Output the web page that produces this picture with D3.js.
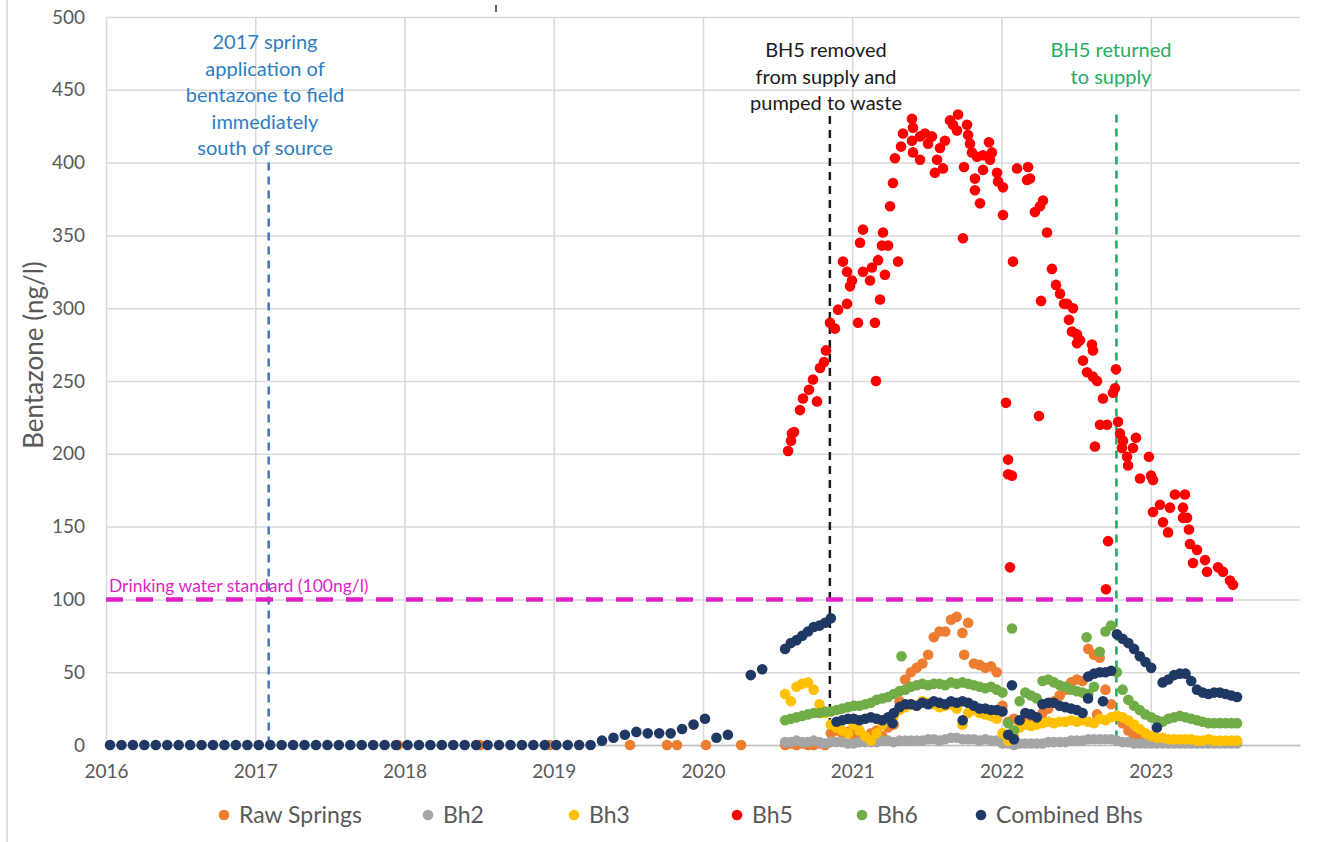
<!DOCTYPE html>
<html>
<head>
<meta charset="utf-8">
<script src="https://cdn.jsdelivr.net/npm/d3@7"></script>
<style>
  body { margin: 0; background: #fff; }
  svg { display: block; }
  text { font-family: Lato, "Open Sans", sans-serif; }
</style>
</head>
<body>
<svg id="chart" width="1330" height="842"></svg>
<script>
// ---- data -------------------------------------------------------------
const xTickYears = [2016, 2017, 2018, 2019, 2020, 2021, 2022, 2023];
const yTicks = [0, 50, 100, 150, 200, 250, 300, 350, 400, 450, 500];
const seriesNames = ["Raw Springs", "Bh2", "Bh3", "Bh5", "Bh6", "Combined Bhs"];

// Combined borehole supply, four-weekly samples from Jan 2016
const fourWeekStart = 2016.027;
const fourWeekStep = 28 / 365.25;
const combinedEarly = [
  0,0,0,0,0,0,0,0,0,0, 0,0,0,0,0,0,0,0,0,0,
  0,0,0,0,0,0,0,0,0,0, 0,0,0,0,0,0,0,0,0,0,
  0,0,0,
  3,5,7,9,8,8,8,11,14,18,5,7,null,48,52
];

// Occasional raw spring samples before routine monitoring
const rawSpringsEarly = [
  [2017.956, 0], [2018.506, 0], [2018.975, 0], [2019.511, 0],
  [2019.759, 0], [2019.826, 0], [2020.020, 0], [2020.255, 0]
];

// Fortnightly monitoring from late July 2020
const fortnightStart = 2020.55;
const fortnightStep = 14 / 365.25;

const rawSprings = [
  0,1,0,1,0,0,1,0,
  8,10,8,9,7,9,5,8,10,6,12,14,
  30,45,50,53,56,62,74,78,78,86,88,77,84,56,55,53,54,50,
  27,16,18,15,16,20,18,22,25,30,34,38,43,45,44,66,62,60,38,28,20,15,10,6,4,
  3,2,2,2,2,2,2,2,2,2,2,2,2,2,2,2,2
];
const bh2 = [
  2,2,3,2,2,3,2,1,2,2,2,1,
  1,2,2,2,2,3,3,2,3,3,3,3,
  3,4,4,3,4,5,5,4,4,4,3,4,3,3,
  1,1,0,1,1,1,1,
  1,2,2,2,2,3,3,3,4,4,4,4,
  4,3,2,2,1,1,
  1,1,1,1,1,1,1,1,1,1,1,1,1,1,1,1,1
];
const bh3 = [
  35,30,40,42,43,38,28,22,14,12,10,8,
  14,10,6,3,8,14,18,20,24,26,28,27,
  30,29,28,26,27,28,25,14,22,24,22,21,20,18,
  8,3,6,12,14,13,14,
  15,16,15,16,16,17,16,17,16,15,18,17,
  19,20,19,17,14,11,
  8,6,5,5,4,4,4,4,4,3,3,4,3,3,3,3,3
];
const bh6 = [
  17,18,19,20,21,22,22,23,23,24,25,26,
  27,27,28,29,31,32,33,35,37,38,40,41,
  42,41,42,42,41,43,42,43,42,41,40,39,40,38,
  36,15,10,30,36,34,32,
  44,45,43,41,40,38,37,36,35,40,64,78,
  82,50,38,31,27,24,
  21,19,17,16,18,19,20,19,18,17,16,15,15,15,15,15,15
];
const combined = [
  66,70,72,75,78,81,82,84,87,
  16,17,18,18,17,18,19,18,17,19,
  22,26,28,28,27,29,28,30,29,28,30,29,30,29,27,25,25,24,24,
  23,7,4,17,22,21,19,
  28,29,29,27,26,25,24,22,47,49,50,50,
  51,76,73,70,66,61,57,53,
  12,43,45,48,49,49,44,38,36,35,36,36,35,34,33
];

// Individual readings off the fortnightly calendar
const rawSpringsExtra = [[2021.75, 62], [2022.64, 21]];
const bh6Extra = [[2021.33, 61], [2022.07, 80], [2022.57, 74]];
const combinedExtra = [[2021.27, 15], [2021.74, 17], [2022.07, 41], [2022.58, 32], [2022.68, 30]];

// Bh5 readings [decimal year, ng/l]
const bh5 = [
  [2020.570,202],[2020.590,209],[2020.596,214],[2020.610,215],[2020.650,230],[2020.670,238],
  [2020.710,244],[2020.737,251],[2020.764,236],[2020.784,259],[2020.811,263],[2020.824,271],
  [2020.851,290],[2020.884,286],[2020.905,299],[2020.938,332],[2020.965,303],[2020.965,325],
  [2020.985,315],[2020.998,319],[2021.039,290],[2021.052,345],[2021.072,354],[2021.072,325],
  [2021.119,319],[2021.132,328],[2021.152,290],[2021.159,250],[2021.173,333],[2021.186,306],
  [2021.199,343],[2021.206,352],[2021.219,323],[2021.240,343],[2021.253,370],[2021.273,386],
  [2021.286,403],[2021.307,332],[2021.327,411],[2021.340,420],[2021.400,430],[2021.400,415],
  [2021.407,424],[2021.407,407],[2021.454,418],[2021.454,402],[2021.487,420],[2021.508,413],
  [2021.534,418],[2021.554,393],[2021.568,402],[2021.588,410],[2021.608,396],[2021.621,415],
  [2021.655,429],[2021.675,426],[2021.702,422],[2021.709,433],[2021.742,348],[2021.749,397],
  [2021.769,426],[2021.776,419],[2021.789,413],[2021.802,407],[2021.822,389],[2021.822,381],
  [2021.836,404],[2021.856,372],[2021.876,395],[2021.876,405],[2021.916,414],[2021.923,402],
  [2021.936,407],[2021.970,393],[2021.977,387],[2022.010,383],[2022.010,364],[2022.030,235],
  [2022.044,196],[2022.044,186],[2022.057,122],[2022.070,185],[2022.077,332],[2022.104,396],
  [2022.171,388],[2022.178,397],[2022.191,389],[2022.224,366],[2022.251,226],[2022.258,370],
  [2022.265,305],[2022.278,374],[2022.305,352],[2022.338,327],[2022.365,316],[2022.392,310],
  [2022.419,303],[2022.439,303],[2022.452,292],[2022.472,284],[2022.479,300],[2022.506,282],
  [2022.506,276],[2022.526,278],[2022.546,264],[2022.573,256],[2022.606,275],[2022.613,271],
  [2022.613,253],[2022.626,205],[2022.640,250],[2022.660,220],[2022.680,238],[2022.700,107],
  [2022.707,220],[2022.714,140],[2022.747,242],[2022.760,245],[2022.767,258],[2022.781,222],
  [2022.794,214],[2022.807,204],[2022.814,209],[2022.841,198],[2022.848,192],[2022.881,204],
  [2022.901,211],[2022.928,183],[2022.988,198],[2023.002,185],[2023.015,182],[2023.015,160],
  [2023.062,165],[2023.082,153],[2023.116,146],[2023.129,163],[2023.162,172],[2023.216,163],
  [2023.216,156],[2023.229,172],[2023.243,156],[2023.256,148],[2023.263,138],[2023.283,125],
  [2023.310,134],[2023.364,127],[2023.377,119],[2023.451,122],[2023.484,119],[2023.531,113],
  [2023.551,110]
];

// Reference events and limit
const standardValue = 100;
const standardLabel = "Drinking water standard (100ng/l)";
const events = [
  { year: 2017.09, top: 400, line: "#4472c4", textColor: "#2e7dc0",
    lines: ["2017 spring", "application of", "bentazone to field", "immediately", "south of source"] },
  { year: 2020.85, top: 432, line: "#1a1a1a", textColor: "#1a1a1a",
    lines: ["BH5 removed", "from supply and", "pumped to waste"] },
  { year: 2022.77, top: 433, line: "#1fa65a", textColor: "#25ad5f",
    lines: ["BH5 returned", "to supply"] }
];

// ---- helpers ----------------------------------------------------------
const onCalendar = (vals, start, step) =>
  vals.map((v, i) => [start + i * step, v]).filter(d => d[1] !== null);

const colors = {
  "Raw Springs": "#ed7d31",
  "Bh2": "#a5a5a5",
  "Bh3": "#ffc000",
  "Bh5": "#ff0000",
  "Bh6": "#70ad47",
  "Combined Bhs": "#203864"
};

const seriesPoints = {
  "Raw Springs": rawSpringsEarly.concat(onCalendar(rawSprings, fortnightStart, fortnightStep), rawSpringsExtra),
  "Bh2": onCalendar(bh2, fortnightStart, fortnightStep),
  "Bh3": onCalendar(bh3, fortnightStart, fortnightStep),
  "Bh5": bh5,
  "Bh6": onCalendar(bh6, fortnightStart, fortnightStep).concat(bh6Extra),
  "Combined Bhs": onCalendar(combinedEarly, fourWeekStart, fourWeekStep)
    .concat(onCalendar(combined, fortnightStart, fortnightStep), combinedExtra)
};

// ---- layout -----------------------------------------------------------
const svg = d3.select("#chart");
const plot = { left: 106, right: 1300, top: 17, bottom: 745 };

const x = d3.scaleLinear().domain([2016, 2024]).range([plot.left, plot.right]);
const y = d3.scaleLinear().domain([0, 500]).range([plot.bottom, plot.top]);

// page frame line on the left and a stray tick at the top
svg.append("line").attr("x1", 7).attr("x2", 7).attr("y1", 0).attr("y2", 842)
  .attr("stroke", "#d4d4d4").attr("stroke-width", 1.5);
svg.append("line").attr("x1", 496).attr("x2", 496).attr("y1", 5).attr("y2", 12)
  .attr("stroke", "#333").attr("stroke-width", 1.5);

// gridlines
const grid = svg.append("g");
grid.append("g")
  .attr("transform", `translate(${plot.left},0)`)
  .call(d3.axisLeft(y).tickValues(yTicks).tickSize(-(plot.right - plot.left)).tickFormat(""))
  .call(g => g.select(".domain").remove())
  .call(g => g.selectAll("line").attr("stroke", "#d9d9d9").attr("stroke-width", 1.5));
grid.append("g")
  .attr("transform", `translate(0,${plot.bottom})`)
  .call(d3.axisBottom(x).tickValues(xTickYears).tickSize(-(plot.bottom - plot.top)).tickFormat(""))
  .call(g => g.select(".domain").remove())
  .call(g => g.selectAll("line").attr("stroke", "#d9d9d9").attr("stroke-width", 1.5));

// axis labels
const tickFill = "#595959";
svg.append("g")
  .attr("transform", `translate(${plot.left},0)`)
  .call(d3.axisLeft(y).tickValues(yTicks).tickSize(0).tickPadding(21))
  .call(g => g.select(".domain").remove())
  .call(g => g.selectAll("text").attr("fill", tickFill).style("font-size", "19px")
    .style("font-family", "Lato, sans-serif"));
svg.append("g")
  .attr("transform", `translate(0,${plot.bottom})`)
  .call(d3.axisBottom(x).tickValues(xTickYears).tickSize(0).tickPadding(20).tickFormat(d3.format("d")))
  .call(g => g.select(".domain").attr("stroke", "#bfbfbf").attr("stroke-width", 1.5))
  .call(g => g.selectAll("text").attr("fill", tickFill).style("font-size", "19px")
    .style("font-family", "Lato, sans-serif"));

svg.append("text")
  .attr("transform", "translate(43,355) rotate(-90)")
  .attr("text-anchor", "middle")
  .attr("fill", tickFill)
  .style("font-size", "26px")
  .text("Bentazone (ng/l)");

// event markers
events.forEach(ev => {
  svg.append("line")
    .attr("x1", x(ev.year)).attr("x2", x(ev.year))
    .attr("y1", y(ev.top)).attr("y2", y(0))
    .attr("stroke", ev.line).attr("stroke-width", 2.5)
    .attr("stroke-dasharray", "8,6");
});

// series points, drawn in legend order
seriesNames.forEach(name => {
  svg.append("g").selectAll("circle")
    .data(seriesPoints[name])
    .join("circle")
    .attr("cx", d => x(d[0]))
    .attr("cy", d => y(d[1]))
    .attr("r", 5.3)
    .attr("fill", colors[name]);
});

// drinking water standard
svg.append("line")
  .attr("x1", x(2016)).attr("x2", x(2023.57))
  .attr("y1", y(standardValue)).attr("y2", y(standardValue))
  .attr("stroke", "#e11fc6").attr("stroke-width", 4.5)
  .attr("stroke-dasharray", "17,13");
svg.append("text")
  .attr("x", x(2016) + 3).attr("y", y(standardValue) - 7)
  .attr("fill", "#e11fc6")
  .style("font-size", "17.5px")
  .text(standardLabel);

// event annotations
const noteCenters = [265, 826, 1111];
const noteTop = [49, 57, 57];
events.forEach((ev, i) => {
  svg.append("g").selectAll("text")
    .data(ev.lines)
    .join("text")
    .attr("x", noteCenters[i])
    .attr("y", (d, j) => noteTop[i] + j * 26.6)
    .attr("text-anchor", "middle")
    .attr("fill", ev.textColor)
    .style("font-size", "20px")
    .text(d => d);
});

// legend
const legendX = [224, 428, 574, 737, 862, 981];
const legend = svg.append("g");
seriesNames.forEach((name, i) => {
  legend.append("circle").attr("cx", legendX[i]).attr("cy", 815).attr("r", 5.3).attr("fill", colors[name]);
  legend.append("text").attr("x", legendX[i] + 15).attr("y", 823)
    .attr("fill", tickFill).style("font-size", "23px").text(name);
});
</script>
</body>
</html>
